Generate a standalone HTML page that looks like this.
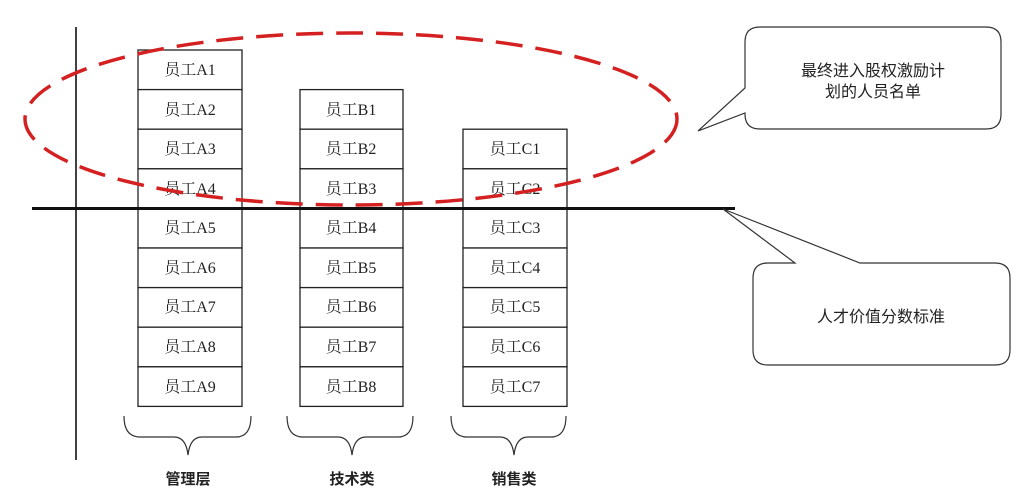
<!DOCTYPE html>
<html><head><meta charset="utf-8"><style>
html,body{margin:0;padding:0;background:#fff;}
svg{display:block;}
.b{font-family:"Liberation Serif","Noto Serif CJK SC",serif;font-size:16px;fill:#222;}
.s{font-family:"Liberation Sans","Noto Sans CJK SC",sans-serif;fill:#222;}
</style></head><body>
<svg width="1030" height="498" viewBox="0 0 1030 498" xmlns="http://www.w3.org/2000/svg">
<rect width="1030" height="498" fill="#fff"/>
<line x1="76" y1="27" x2="76" y2="460" stroke="#111" stroke-width="1.6"/>
<g fill="#fff" stroke="#222" stroke-width="1.3">
<rect x="138" y="50" width="104" height="39.6"/><rect x="138" y="89.6" width="104" height="39.6"/>
<rect x="138" y="129.2" width="104" height="39.6"/><rect x="138" y="168.8" width="104" height="39.6"/>
<rect x="138" y="208.4" width="104" height="39.6"/><rect x="138" y="248" width="104" height="39.6"/>
<rect x="138" y="287.6" width="104" height="39.6"/><rect x="138" y="327.2" width="104" height="39.6"/>
<rect x="138" y="366.8" width="104" height="39.6"/>
<rect x="300" y="89.6" width="103" height="39.6"/><rect x="300" y="129.2" width="103" height="39.6"/>
<rect x="300" y="168.8" width="103" height="39.6"/><rect x="300" y="208.4" width="103" height="39.6"/>
<rect x="300" y="248" width="103" height="39.6"/><rect x="300" y="287.6" width="103" height="39.6"/>
<rect x="300" y="327.2" width="103" height="39.6"/><rect x="300" y="366.8" width="103" height="39.6"/>
<rect x="463" y="129.2" width="104" height="39.6"/><rect x="463" y="168.8" width="104" height="39.6"/>
<rect x="463" y="208.4" width="104" height="39.6"/><rect x="463" y="248" width="104" height="39.6"/>
<rect x="463" y="287.6" width="104" height="39.6"/><rect x="463" y="327.2" width="104" height="39.6"/>
<rect x="463" y="366.8" width="104" height="39.6"/>
</g>
<g class="b" text-anchor="middle">
<text x="190" y="75">员工A1</text><text x="190" y="115">员工A2</text><text x="190" y="154">员工A3</text>
<text x="190" y="194">员工A4</text><text x="190" y="233">员工A5</text><text x="190" y="273">员工A6</text>
<text x="190" y="312">员工A7</text><text x="190" y="352">员工A8</text><text x="190" y="392">员工A9</text>
<text x="351" y="115">员工B1</text><text x="351" y="154">员工B2</text><text x="351" y="194">员工B3</text>
<text x="351" y="233">员工B4</text><text x="351" y="273">员工B5</text><text x="351" y="312">员工B6</text>
<text x="351" y="352">员工B7</text><text x="351" y="392">员工B8</text>
<text x="515" y="154">员工C1</text><text x="515" y="194">员工C2</text><text x="515" y="233">员工C3</text>
<text x="515" y="273">员工C4</text><text x="515" y="312">员工C5</text><text x="515" y="352">员工C6</text>
<text x="515" y="392">员工C7</text>
</g>
<line x1="32" y1="208.5" x2="735" y2="208.5" stroke="#111" stroke-width="3"/>
<ellipse cx="351" cy="119" rx="326" ry="86" fill="none" stroke="#d42020" stroke-width="3.5" stroke-dasharray="27,13"/>
<path d="M760,27 H986 Q1001,27 1001,42 V114 Q1001,129 986,129 H760 Q745,129 745,114 V113 L698,131 L745,88 V42 Q745,27 760,27 Z" fill="#fff" stroke="#333" stroke-width="1.2"/>
<text class="s" x="873" y="76" text-anchor="middle" font-size="16">最终进入股权激励计</text>
<text class="s" x="873" y="97" text-anchor="middle" font-size="16">划的人员名单</text>
<path d="M768,263 H795 L723,209 L860,263 H995 Q1010,263 1010,278 V350 Q1010,365 995,365 H768 Q753,365 753,350 V278 Q753,263 768,263 Z" fill="#fff" stroke="#333" stroke-width="1.2"/>
<text class="s" x="881" y="322" text-anchor="middle" font-size="16">人才价值分数标准</text>
<g fill="none" stroke="#333" stroke-width="1.2">
<path d="M124,416 Q124,437 140,437 H174 Q186,437 188,455 Q190,437 202,437 H236 Q251,437 251,416"/>
<path d="M287,416 Q287,437 303,437 H338 Q350,437 352,455 Q354,437 366,437 H398 Q413,437 413,416"/>
<path d="M451,416 Q451,437 467,437 H500 Q512,437 514,455 Q516,437 528,437 H551 Q566,437 566,416"/>
</g>
<g class="s" text-anchor="middle" font-size="15" font-weight="bold">
<text x="188" y="484">管理层</text><text x="352" y="484">技术类</text><text x="514" y="484">销售类</text>
</g>
</svg>
</body></html>
